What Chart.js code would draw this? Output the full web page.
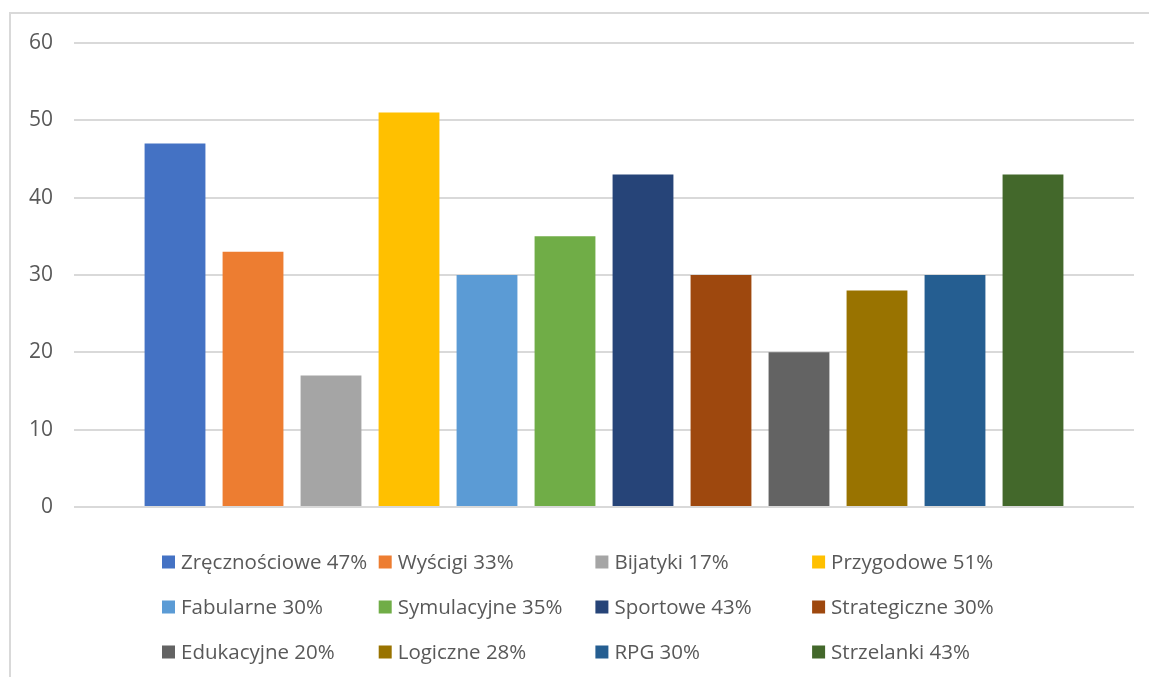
<!DOCTYPE html>
<html>
<head>
<meta charset="utf-8">
<script src="https://cdn.jsdelivr.net/npm/chart.js@4"></script>
<style>
  html, body { margin: 0; padding: 0; background: #fff; overflow: hidden; }
  #frame { position: absolute; left: 9px; top: 12px; width: 1200px; height: 800px;
           border-left: 2px solid #D9D9D9; border-top: 2px solid #D9D9D9; }
  #c { position: absolute; left: 0; top: 0; }
</style>
</head>
<body>
<div id="frame"></div>
<canvas id="c" width="1149" height="677"></canvas>
<script>
// Données du graphique
const categories = ['Zręcznościowe', 'Wyścigi', 'Bijatyki', 'Przygodowe', 'Fabularne', 'Symulacyjne',
  'Sportowe', 'Strategiczne', 'Edukacyjne', 'Logiczne', 'RPG', 'Strzelanki'];
const values = [47, 33, 17, 51, 30, 35, 43, 30, 20, 28, 30, 43];
const percents = ['47%', '33%', '17%', '51%', '30%', '35%', '43%', '30%', '20%', '28%', '30%', '43%'];
const colors = ['#4472C4', '#ED7D31', '#A5A5A5', '#FFC000', '#5B9BD5', '#70AD47',
  '#264478', '#9E480E', '#636363', '#997300', '#255E91', '#43682B'];
const yTicks = [0, 10, 20, 30, 40, 50, 60];

const FONT = '"Open Sans", "Noto Sans", sans-serif';
const TEXT = '#595959';

// Légende en grille (4 colonnes) comme dans Excel
const gridLegend = {
  id: 'gridLegend',
  afterDraw(chart) {
    const ctx = chart.ctx;
    ctx.save();
    ctx.font = '20.5px ' + FONT;
    ctx.textBaseline = 'middle';
    ctx.textAlign = 'left';
    chart.data.datasets.forEach((ds, i) => {
      const col = i % 4, row = Math.floor(i / 4);
      const x = 162 + col * 216.7;
      const y = 562 + row * 45;
      ctx.fillStyle = ds.backgroundColor;
      ctx.fillRect(x, y - 6.5, 13, 13);
      ctx.fillStyle = TEXT;
      ctx.fillText(ds.label, x + 19, y + 1);
    });
    ctx.restore();
  }
};

const datasets = categories.map((name, i) => ({
  label: name + ' ' + percents[i],
  data: [values[i]],
  backgroundColor: colors[i],
  categoryPercentage: 0.883,
  barPercentage: 0.78
}));

new Chart(document.getElementById('c'), {
  type: 'bar',
  data: { labels: [''], datasets: datasets },
  options: {
    responsive: false,
    animation: false,
    layout: { padding: { left: 0, right: 15, top: 43, bottom: 170 } },
    plugins: {
      legend: { display: false },
      tooltip: { enabled: false }
    },
    scales: {
      x: {
        display: false,
        grid: { display: false }
      },
      y: {
        min: 0,
        max: 60,
        afterBuildTicks(scale) { scale.ticks = yTicks.map(v => ({ value: v })); },
        afterFit(scale) { scale.width = 74; },
        border: { display: false },
        grid: { color: '#D9D9D9', lineWidth: 2, drawTicks: false },
        ticks: {
          padding: 21,
          color: TEXT,
          font: { family: FONT, size: 21 }
        }
      }
    }
  },
  plugins: [gridLegend]
});
</script>
</body>
</html>
